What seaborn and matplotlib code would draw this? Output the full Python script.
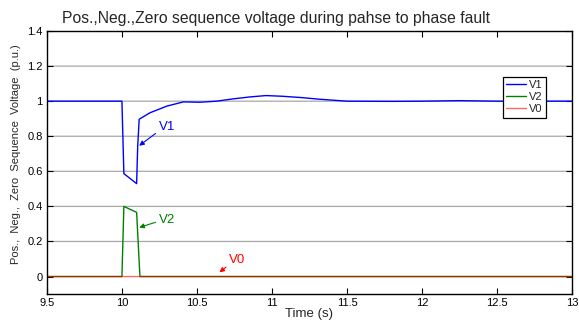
import numpy as np
import pandas as pd
import matplotlib
matplotlib.use("Agg")
import matplotlib.pyplot as plt
import seaborn as sns

# ---- data ----
t_v1 = [9.5, 10.0, 10.013, 10.098, 10.105, 10.115, 10.187, 10.30, 10.41, 10.52, 10.63,
        10.74, 10.85, 10.96, 11.07, 11.19, 11.32, 11.5, 11.8, 12.0, 12.25, 12.5, 13.0]
v1 = [1.0, 1.0, 0.587, 0.530, 0.74, 0.897, 0.934, 0.972, 0.996, 0.994, 1.0,
      1.013, 1.024, 1.032, 1.028, 1.021, 1.011, 1.0, 0.999, 1.0, 1.003, 1.0, 1.0]

t_v2 = [9.5, 10.0, 10.013, 10.098, 10.12, 13.0]
v2 = [0.0, 0.0, 0.40, 0.366, 0.0, 0.0]

t_v0 = [9.5, 13.0]
v0 = [0.0, 0.0]

series_names = ["V1", "V2", "V0"]
series_colors = ["#0000ff", "#008000", "#ff0000"]
series_alpha = [1.0, 1.0, 0.6]

x_ticks = [9.5, 10, 10.5, 11, 11.5, 12, 12.5, 13]
x_ticklabels = ["9.5", "10", "10.5", "11", "11.5", "12", "12.5", "13"]
y_ticks = [0, 0.2, 0.4, 0.6, 0.8, 1.0, 1.2, 1.4]
y_ticklabels = ["0", "0.2", "0.4", "0.6", "0.8", "1", "1.2", "1.4"]

title = "Pos.,Neg.,Zero sequence voltage during pahse to phase fault"
xlabel = "Time (s)"
ylabel = "Pos.,  Neg.,  Zero  Sequence  Voltage  (p.u.)"

series_t = [t_v1, t_v2, t_v0]
series_v = [v1, v2, v0]

sns.set_theme(style="white")
plt.rcParams["font.family"] = ["Liberation Sans", "DejaVu Sans"]

fig = plt.figure(figsize=(5.79, 3.20), dpi=100)
ax = fig.add_axes([0.081, 0.081, 0.907, 0.822])

for yv in y_ticks[1:]:
    ax.axhline(yv, color="#a8a8a8", lw=0.9, zorder=0)

for name, col, al, tt, vv in zip(series_names, series_colors, series_alpha, series_t, series_v):
    sns.lineplot(x=tt, y=vv, color=col, label=name, sort=False, estimator=None,
                 lw=1.0, alpha=al, ax=ax)

# no pixel snapping, so the flat V0 line lies exactly over V2's flat part
for ln in ax.lines:
    ln.set_snap(False)

ax.set_xlim(9.5, 13)
ax.set_ylim(-0.1, 1.4)
ax.set_xticks(x_ticks)
ax.set_xticklabels(x_ticklabels)
ax.set_yticks(y_ticks)
ax.set_yticklabels(y_ticklabels)
ax.tick_params(direction="in", length=4, width=0.8, labelsize=8, colors="black",
               top=True, right=True, bottom=True, left=True, pad=3)
for sp in ax.spines.values():
    sp.set_color("black")
    sp.set_linewidth(1.0)
    sp.set_zorder(5)

fig.text(276 / 579, 1 - 18 / 320, title, fontsize=11.3, ha="center", va="center")
ax.set_xlabel(xlabel, fontsize=9.5, labelpad=0)
ax.set_ylabel(ylabel, fontsize=8.0)
ax.yaxis.set_label_coords(-0.05, 0.532)

arrow_kw = dict(arrowstyle="-|>", lw=0.8, mutation_scale=7, shrinkA=0, shrinkB=0)
ax.annotate("V1", xy=(10.115, 0.746), xytext=(10.30, 0.85), color="#0000ff",
            fontsize=9.5, ha="center", va="center",
            arrowprops=dict(color="#0000ff", relpos=(0, 0.2), **arrow_kw))
ax.annotate("V2", xy=(10.115, 0.28), xytext=(10.30, 0.322), color="#008000",
            fontsize=9.5, ha="center", va="center",
            arrowprops=dict(color="#008000", relpos=(0, 0.4), **arrow_kw))
ax.annotate("V0", xy=(10.65, 0.024), xytext=(10.77, 0.096), color="#ff0000",
            fontsize=9.5, ha="center", va="center",
            arrowprops=dict(color="#ff0000", relpos=(0, 0.1), **arrow_kw))

leg = ax.legend(loc="upper left", bbox_to_anchor=(0.868, 0.827), fontsize=8,
                frameon=True, fancybox=False, edgecolor="black", framealpha=1,
                handlelength=1.8, handletextpad=0.3, borderpad=0.3,
                labelspacing=0.2, borderaxespad=0)
leg.get_frame().set_linewidth(0.9)
leg.set_zorder(10)

fig.savefig("out.png", dpi=100)
